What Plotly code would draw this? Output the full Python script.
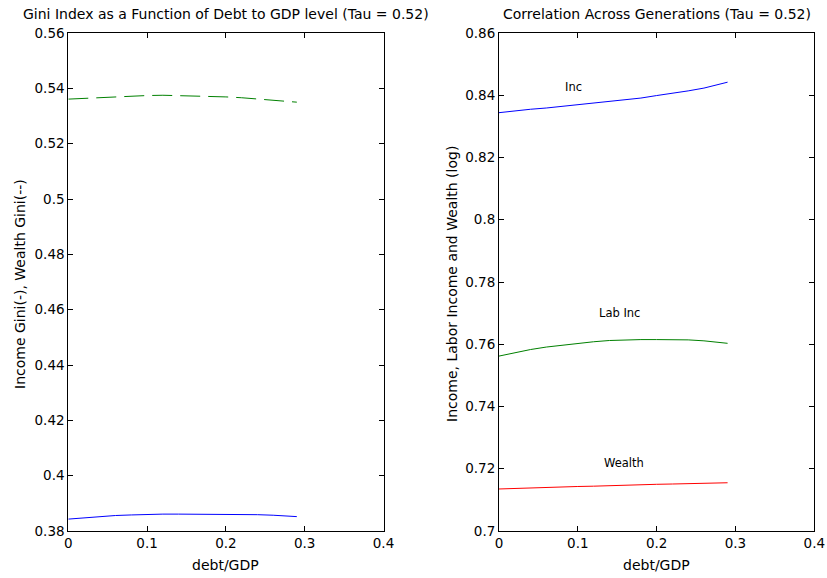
import plotly.graph_objects as go

# ---- data ----
debt_gdp = [0.0, 0.02, 0.04, 0.06, 0.08, 0.10, 0.12, 0.14, 0.16, 0.18, 0.20, 0.22, 0.24, 0.26, 0.28, 0.29]

income_gini = [0.3843, 0.3848, 0.3853, 0.3856, 0.3858, 0.3860, 0.3861, 0.3861, 0.3861, 0.3861, 0.3861,
               0.3861, 0.3859, 0.3857, 0.3854, 0.3852]
wealth_gini = [0.5361, 0.5364, 0.5367, 0.5370, 0.5372, 0.5374, 0.5375, 0.5374, 0.5373, 0.5371, 0.5369,
               0.5366, 0.5361, 0.5357, 0.5352, 0.5350]

corr_inc = [0.8344, 0.8350, 0.8355, 0.8359, 0.8364, 0.8369, 0.8374, 0.8379, 0.8386, 0.8391, 0.8399,
            0.8406, 0.8414, 0.8423, 0.8436, 0.8442]
corr_lab_inc = [0.7562, 0.7573, 0.7583, 0.7591, 0.7597, 0.7602, 0.7608, 0.7612, 0.7614, 0.7615, 0.7615,
                0.7615, 0.7614, 0.7611, 0.7606, 0.7603]
corr_wealth = [0.7135, 0.7137, 0.7138, 0.7139, 0.7141, 0.7143, 0.7144, 0.7146, 0.7147, 0.7148, 0.7150,
               0.7151, 0.7152, 0.7153, 0.7154, 0.7155]

x_ticks = [0, 0.1, 0.2, 0.3, 0.4]
x_ticktext = ["0", "0.1", "0.2", "0.3", "0.4"]
left_yticks = [0.38, 0.40, 0.42, 0.44, 0.46, 0.48, 0.50, 0.52, 0.54, 0.56]
left_yticktext = ["0.38", "0.4", "0.42", "0.44", "0.46", "0.48", "0.5", "0.52", "0.54", "0.56"]
right_yticks = [0.70, 0.72, 0.74, 0.76, 0.78, 0.80, 0.82, 0.84, 0.86]
right_yticktext = ["0.7", "0.72", "0.74", "0.76", "0.78", "0.8", "0.82", "0.84", "0.86"]

left_title = "Gini Index as a Function of Debt to GDP level (Tau = 0.52)"
right_title = "Correlation Across Generations (Tau = 0.52)"
x_label = "debt/GDP"
left_ylabel = "Income Gini(-), Wealth Gini(--)"
right_ylabel = "Income, Labor Income and Wealth (log)"
series_labels = ["Inc", "Lab Inc", "Wealth"]
label_x = [0.094, 0.153, 0.159]
label_y = [0.8427, 0.7700, 0.7220]

W, H = 827, 578
ML, MR, MT, MB = 68, 12, 33, 47
PW, PH = W - ML - MR, H - MT - MB
FONT = "DejaVu Sans, Verdana, sans-serif"

BLUE = "rgb(0,0,255)"
GREEN = "rgb(0,128,0)"
RED = "rgb(255,0,0)"


def px(xp):
    return min(1.0, max(0.0, (xp - ML) / PW))


def py(yp):
    return (H - MB - yp) / PH


fig = go.Figure()
fig.add_trace(go.Scatter(x=debt_gdp, y=income_gini, mode="lines", line=dict(color=BLUE, width=1),
                         xaxis="x", yaxis="y", showlegend=False))
fig.add_trace(go.Scatter(x=debt_gdp, y=wealth_gini, mode="lines",
                         line=dict(color=GREEN, width=1, dash="20px,8px"),
                         xaxis="x", yaxis="y", showlegend=False))
fig.add_trace(go.Scatter(x=debt_gdp, y=corr_inc, mode="lines", line=dict(color=BLUE, width=1),
                         xaxis="x2", yaxis="y2", showlegend=False))
fig.add_trace(go.Scatter(x=debt_gdp, y=corr_lab_inc, mode="lines", line=dict(color=GREEN, width=1),
                         xaxis="x2", yaxis="y2", showlegend=False))
fig.add_trace(go.Scatter(x=debt_gdp, y=corr_wealth, mode="lines", line=dict(color=RED, width=1),
                         xaxis="x2", yaxis="y2", showlegend=False))

ax1 = (px(68.3), px(383.5))
ax2 = (px(499.0), px(814.3))
ydom = (0, 1)

axis_common = dict(showgrid=False, zeroline=False, showline=True, linecolor="black", linewidth=1,
                   mirror="ticks", ticks="inside", ticklen=5, tickcolor="black", tickwidth=1,
                   automargin=False,
                   tickfont=dict(family=FONT, size=13.5, color="black"))

fig.update_layout(
    width=W, height=H,
    margin=dict(l=ML, r=MR, t=MT, b=MB, autoexpand=False),
    paper_bgcolor="white", plot_bgcolor="white",
    xaxis=dict(domain=ax1, anchor="y", range=[0, 0.4], tickvals=x_ticks, ticktext=x_ticktext, **axis_common),
    yaxis=dict(domain=ydom, anchor="x", range=[0.38, 0.56], tickvals=left_yticks, ticktext=left_yticktext,
               **axis_common),
    xaxis2=dict(domain=ax2, anchor="y2", range=[0, 0.4], tickvals=x_ticks, ticktext=x_ticktext, **axis_common),
    yaxis2=dict(domain=ydom, anchor="x2", range=[0.70, 0.86], tickvals=right_yticks, ticktext=right_yticktext,
                **axis_common),
)

ann = []
tf = dict(family=FONT, size=14, color="black")
ann.append(dict(text=left_title, x=(ax1[0] + ax1[1]) / 2, y=py(14), xref="paper", yref="paper",
                showarrow=False, font=tf, xanchor="center", yanchor="middle"))
ann.append(dict(text=right_title, x=(ax2[0] + ax2[1]) / 2, y=py(14), xref="paper", yref="paper",
                showarrow=False, font=tf, xanchor="center", yanchor="middle"))
for dom in (ax1, ax2):
    ann.append(dict(text=x_label, x=(dom[0] + dom[1]) / 2, y=py(565), xref="paper", yref="paper",
                    showarrow=False, font=tf, xanchor="center", yanchor="middle"))
ann.append(dict(text=left_ylabel, x=(20 - ML) / PW, y=py(284), xref="paper", yref="paper", textangle=-90,
                showarrow=False, font=tf, xanchor="center", yanchor="middle"))
ann.append(dict(text=right_ylabel, x=(452 - ML) / PW, y=py(284), xref="paper", yref="paper", textangle=-90,
                showarrow=False, font=tf, xanchor="center", yanchor="middle"))
for t, lx, ly in zip(series_labels, label_x, label_y):
    ann.append(dict(text=t, x=lx, y=ly, xref="x2", yref="y2", showarrow=False,
                    font=dict(family=FONT, size=11.5, color="black"), xanchor="center", yanchor="middle"))
fig.update_layout(annotations=ann)

fig.write_html("out.html", config={"displayModeBar": False},
               post_script="document.body.style.margin='0';document.body.style.overflow='hidden';")
